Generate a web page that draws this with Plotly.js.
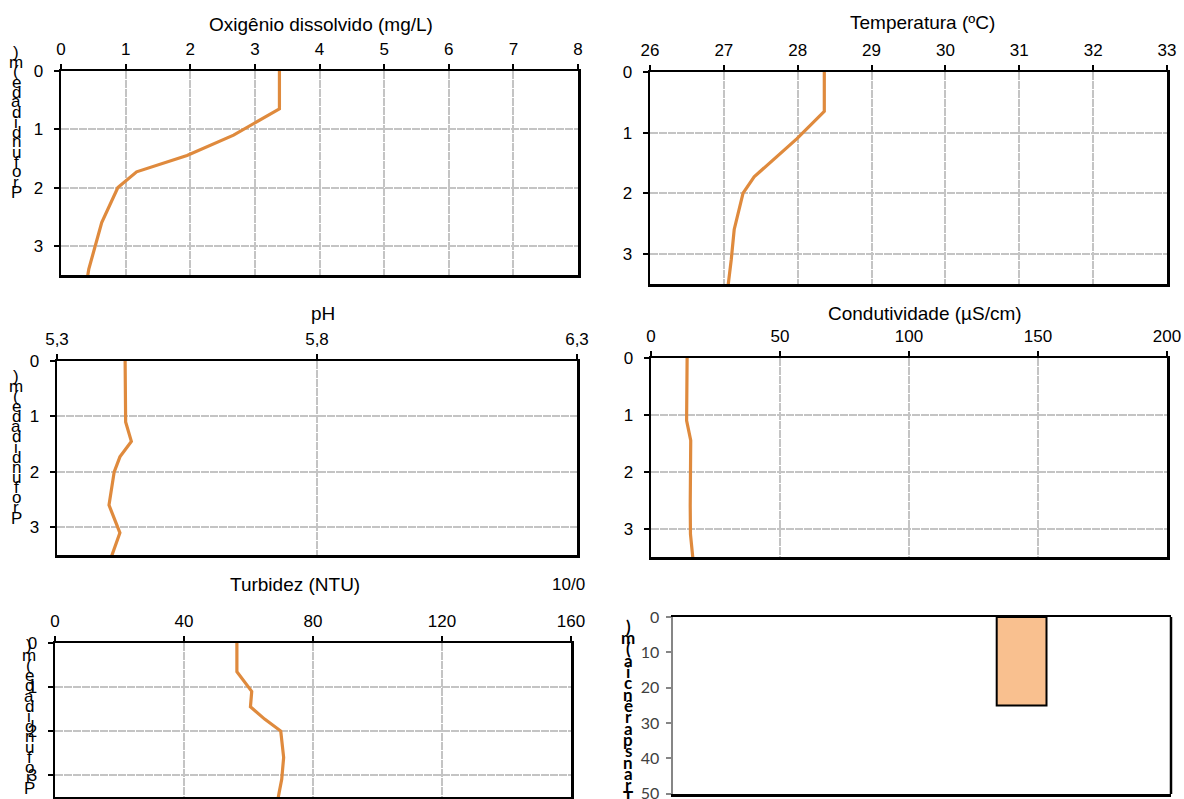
<!DOCTYPE html>
<html>
<head>
<meta charset="utf-8">
<script src="https://cdn.plot.ly/plotly-3.0.1.min.js"></script>
<style>html,body{margin:0;padding:0;background:#fff;}#chart{width:1184px;height:799px;}</style>
</head>
<body>
<div id="chart"></div>
<script>
// ---- data ----
const depth = [0, 0.65, 1.1, 1.45, 1.73, 2.0, 2.6, 3.1, 3.4, 3.6];
const oxigenio = [3.38, 3.38, 2.67, 1.95, 1.17, 0.88, 0.63, 0.50, 0.43, 0.40];
const temperatura = [28.36, 28.36, 27.99, 27.66, 27.41, 27.26, 27.14, 27.10, 27.07, 27.05];
const ph = [5.431, 5.431, 5.432, 5.443, 5.421, 5.41, 5.40, 5.421, 5.41, 5.402];
const condutividade = [14.0, 14.0, 13.8, 15.4, 15.3, 15.3, 15.2, 15.3, 15.9, 16.4];
const turbidez = [56.4, 56.4, 61.0, 60.6, 65.0, 70.0, 70.9, 70.3, 69.5, 69.0];
const transpX = [0.7];
const transparencia = [25];

const titles = ['Oxigênio dissolvido (mg/L)', 'Temperatura (ºC)', 'pH', 'Condutividade (µS/cm)', 'Turbidez (NTU)'];
const depthTitle = 'Profundidade (m)';
const transpTitle = 'Transparência (m)';
const dateLabel = '10/0';

// ---- layout helpers ----
const W = 1184, H = 799;
const dx = (a, b) => [a / W, b / W];
const dy = (t, b) => [1 - b / H, 1 - t / H];
const px = v => v / W;
const py = v => 1 - v / H;

const lineColor = '#DF8A3D';
const tickFont = {family: 'Liberation Sans, Arial, sans-serif', size: 17, color: '#000'};

const baseAx = {
  showline: true, linecolor: '#000', linewidth: 2.5, mirror: true,
  ticks: 'outside', ticklen: 5, tickwidth: 2, tickcolor: '#000',
  showgrid: true, gridcolor: '#C4C4C4', gridwidth: 2, griddash: '8px,1px',
  zeroline: false, tickfont: tickFont, fixedrange: true
};
function xa(dom, range, extra) {
  return Object.assign({}, baseAx, {domain: dom, range: range, side: 'top', ticklabelstandoff: 2}, extra || {});
}
function ya(dom, extra) {
  return Object.assign({}, baseAx, {domain: dom, range: [3.5, 0], dtick: 1, tick0: 0, ticklabelstandoff: 7}, extra || {});
}

const series = [oxigenio, temperatura, ph, condutividade, turbidez];
const traces = series.map((s, i) => ({
  type: 'scatter', mode: 'lines', x: s, y: depth,
  xaxis: i === 0 ? 'x' : 'x' + (i + 1), yaxis: i === 0 ? 'y' : 'y' + (i + 1),
  line: {color: lineColor, width: 3.2}, hoverinfo: 'skip', showlegend: false
}));
traces.push({
  type: 'bar', x: transpX, y: transparencia, width: 0.1, xaxis: 'x6', yaxis: 'y6',
  marker: {color: '#F9C08F', line: {color: '#000', width: 2}}, hoverinfo: 'skip', showlegend: false
});

const annotations = [];
const titlePos = [[321, 25], [922, 23], [323, 313], [925, 313], [295, 584]];
titles.forEach((t, i) => annotations.push({
  text: t, xref: 'paper', yref: 'paper', x: px(titlePos[i][0]), y: py(titlePos[i][1]),
  xanchor: 'center', yanchor: 'middle', showarrow: false,
  font: {family: 'Liberation Sans, Arial, sans-serif', size: 19, color: '#000'}
}));
annotations.push({
  text: dateLabel, xref: 'paper', yref: 'paper', x: px(550), y: py(584),
  xanchor: 'left', yanchor: 'middle', showarrow: false,
  font: {family: 'Liberation Sans, Arial, sans-serif', size: 17, color: '#000'}
});

// stacked (garbled) vertical axis titles
function stacked(str, x, yTop, yBot, font) {
  const chars = Array.from(str).filter(c => c !== ' ').reverse();
  const step = (yBot - yTop) / (chars.length - 1);
  chars.forEach((c, k) => annotations.push({
    text: c, xref: 'paper', yref: 'paper', x: px(x), y: py(yTop + k * step),
    xanchor: 'center', yanchor: 'middle', showarrow: false, font: font
  }));
}
const stFont = {family: 'Liberation Sans, Arial, sans-serif', size: 17, color: '#000'};
stacked(depthTitle, 16, 52, 192, stFont);
stacked(depthTitle, 16, 376, 518, stFont);
stacked(depthTitle, 29, 645, 788, stFont);
stacked(transpTitle, 628, 626, 796, {family: 'Lato, Carlito, sans-serif', size: 17, color: '#000', weight: 'bold'});

const layout = {
  width: W, height: H, margin: {l: 0, r: 0, t: 0, b: 0},
  paper_bgcolor: '#fff', plot_bgcolor: '#fff', separators: ', ',
  showlegend: false,
  xaxis: xa(dx(61, 578), [0, 8], {dtick: 1}),
  yaxis: ya(dy(71, 275), {anchor: 'x'}),
  xaxis2: xa(dx(650, 1167), [26, 33], {dtick: 1, anchor: 'y2'}),
  yaxis2: ya(dy(72, 284), {anchor: 'x2'}),
  xaxis3: xa(dx(57, 577), [5.3, 6.3], {dtick: 0.5, tick0: 5.3, tickformat: '.1f', anchor: 'y3'}),
  yaxis3: ya(dy(361, 555), {anchor: 'x3'}),
  xaxis4: xa(dx(651, 1167), [0, 200], {dtick: 50, anchor: 'y4'}),
  yaxis4: ya(dy(358, 557), {anchor: 'x4'}),
  xaxis5: xa(dx(55, 571), [0, 160], {dtick: 40, anchor: 'y5'}),
  yaxis5: ya(dy(643, 797), {anchor: 'x5'}),
  xaxis6: {domain: dx(673, 1171), range: [0, 1], anchor: 'y6', showline: true, linecolor: '#000', linewidth: 2.5,
           mirror: true, showgrid: false, zeroline: false, showticklabels: false, ticks: '', fixedrange: true},
  yaxis6: {domain: dy(617, 794), range: [50.05, 0], tickvals: [0, 10, 20, 30, 40, 50], anchor: 'x6', showline: true, linecolor: '#868686',
           linewidth: 2.5, ticks: 'outside', ticklen: 5, tickwidth: 2, tickcolor: '#868686', showgrid: false,
           zeroline: false, ticklabelstandoff: 3, ticklabeloverflow: 'allow', fixedrange: true,
           tickfont: {family: 'Lato, Carlito, sans-serif', size: 16, color: '#404040'}},
  shapes: [
    {type: 'line', xref: 'x6 domain', yref: 'y6 domain', x0: 1, x1: 1, y0: 0, y1: 1, line: {color: '#000', width: 2.5}}
  ],
  annotations: annotations
};

Plotly.newPlot('chart', traces, layout, {displayModeBar: false, staticPlot: true});
</script>
</body>
</html>
